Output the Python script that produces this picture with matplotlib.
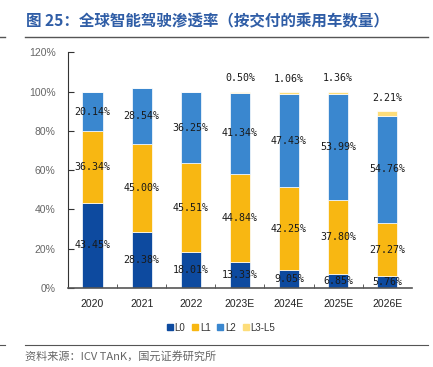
import numpy as np
import matplotlib.pyplot as plt
from matplotlib.lines import Line2D

plt.rcParams['font.family'] = ['Liberation Sans', 'Noto Sans CJK SC', 'DejaVu Sans']

years = ['2020', '2021', '2022', '2023E', '2024E', '2025E', '2026E']
series_names = ['L0', 'L1', 'L2', 'L3-L5']
l0 = [43.45, 28.38, 18.01, 13.33, 9.05, 6.85, 5.76]
l1 = [36.34, 45.00, 45.51, 44.84, 42.25, 37.80, 27.27]
l2 = [20.14, 28.54, 36.25, 41.34, 47.43, 53.99, 54.76]
l3 = [0.00, 0.00, 0.00, 0.50, 1.06, 1.36, 2.21]

colors = ['#0D4A9F', '#F8B712', '#3A87CF', '#FDDD7A']

fig = plt.figure(figsize=(4.33, 3.67), dpi=100)
ax = fig.add_axes([0.157, 0.216, 0.794, 0.641])

x = np.arange(len(years))
bottom = np.zeros(len(years))
handles = []
for name, vals, c in zip(series_names, [l0, l1, l2, l3], colors):
    vals = np.array(vals)
    ax.bar(x, vals, 0.41, bottom=bottom, color=c, edgecolor='white', linewidth=0.5)
    if name != 'L3-L5':
        for xi, b, v in zip(x, bottom, vals):
            ax.text(xi, b + v / 2, f'{v:.2f}%', ha='center', va='center',
                    fontsize=7.2, family='DejaVu Sans Mono', color='#1a1a1a')
    handles.append(Line2D([], [], marker='s', linestyle='none', markersize=4,
                          markerfacecolor=c, markeredgecolor=c, label=name))
    bottom = bottom + vals

# labels for L3-L5 sit above the bar top
for xi, top, v in zip(x, bottom, l3):
    if v > 0:
        ax.annotate(f'{v:.2f}%', (xi, top), xytext=(0, 9.5), textcoords='offset points',
                    ha='center', va='center', fontsize=7.2, family='DejaVu Sans Mono',
                    color='#1a1a1a')

ax.set_xlim(-0.5, 6.5)
ax.set_ylim(0, 120)
ax.set_yticks(np.arange(0, 121, 20))
ax.set_yticklabels([f'{v}%' for v in range(0, 121, 20)])
ax.set_xticks(x)
ax.set_xticklabels(years)
ax.set_xticks(np.arange(0.5, 6, 1), minor=True)
ax.tick_params(axis='x', which='major', length=0, pad=8, labelsize=7.5, colors='#222222')
ax.tick_params(axis='x', which='minor', direction='in', length=3, color='#444444')
ax.tick_params(axis='y', direction='in', length=4, pad=9, labelsize=7.5,
               labelcolor='#666666', color='#333333')

for s in ['top', 'right']:
    ax.spines[s].set_visible(False)
ax.spines['left'].set_color('#333333')
ax.spines['bottom'].set_color('#555555')
ax.spines['bottom'].set_linewidth(1.2)

fig.legend(handles=handles, loc='center', bbox_to_anchor=(0.508, 0.107), ncol=4,
           frameon=False, fontsize=7, handletextpad=0.0, columnspacing=0.5,
           handlelength=1.0, labelcolor='#333333')

fig.text(0.06, 0.942, '图 25：全球智能驾驶渗透率（按交付的乘用车数量）', fontsize=11.2,
         fontweight='bold', color='#2F5DA6', va='center',
         family=['Noto Sans CJK SC', 'DejaVu Sans'])
fig.add_artist(Line2D([0.058, 0.988], [0.899, 0.899], color='#555555', linewidth=1.0))
fig.add_artist(Line2D([0.0, 0.012], [0.899, 0.899], color='#555555', linewidth=1.0))
fig.add_artist(Line2D([0.058, 0.988], [0.06, 0.06], color='#555555', linewidth=0.8))
fig.add_artist(Line2D([0.0, 0.012], [0.06, 0.06], color='#555555', linewidth=0.8))
fig.text(0.058, 0.028, '资料来源：ICV TAnK，国元证券研究所', fontsize=8, color='#666666',
         va='center', family=['Noto Sans CJK SC', 'DejaVu Sans'])

fig.savefig('out.png', dpi=100)
